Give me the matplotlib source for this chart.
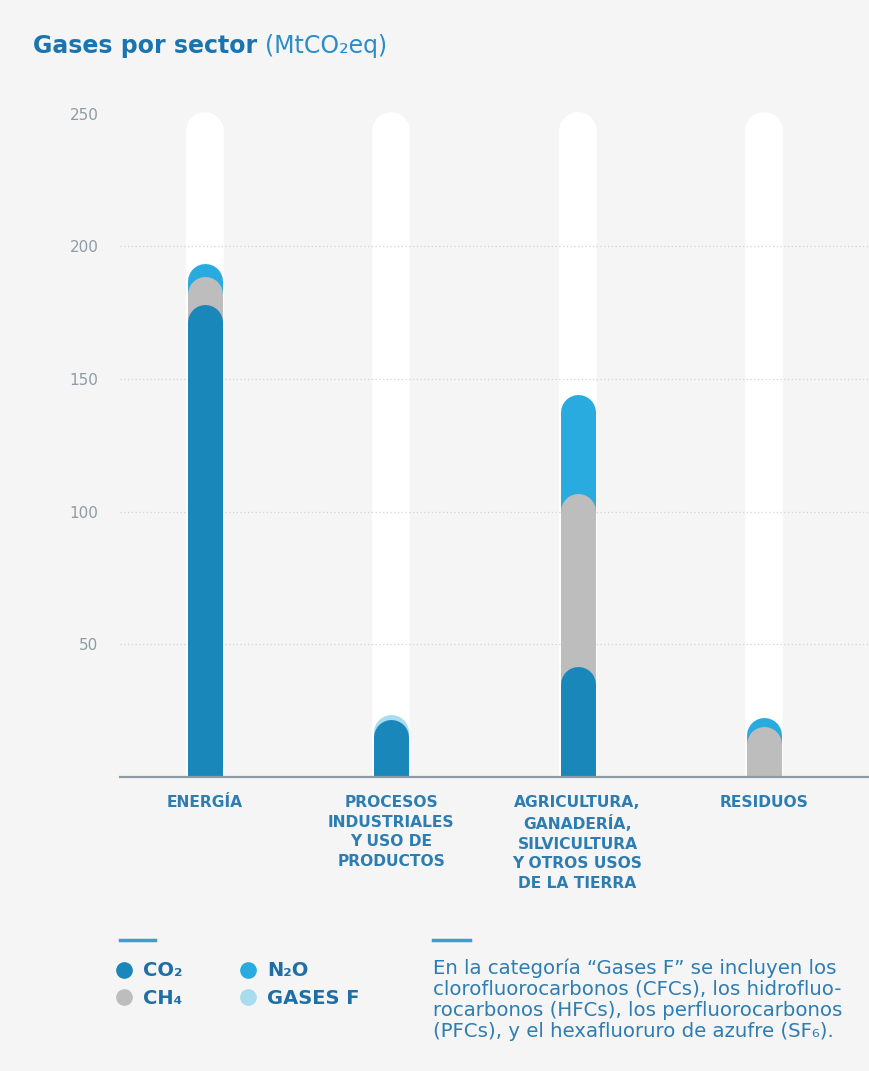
import numpy as np
import matplotlib
matplotlib.use("Agg")
from matplotlib import pyplot as plt
from matplotlib.lines import Line2D

sectors = ['ENERGÍA',
           'PROCESOS\nINDUSTRIALES\nY USO DE\nPRODUCTOS',
           'AGRICULTURA,\nGANADERÍA,\nSILVICULTURA\nY OTROS USOS\nDE LA TIERRA',
           'RESIDUOS']
co2 = [178, 21.5, 41.5, 0]
ch4 = [10.5, 0, 65.5, 19]
n2o = [5, 0, 37, 3.5]
gases_f = [0, 2, 0, 0]
track_max = 250
yticks = [50, 100, 150, 200, 250]

gas_names = ['CO₂', 'CH₄', 'N₂O', 'GASES F']
gas_colors = ['#1a87bb', '#bdbdbd', '#2aabe0', '#a8dcef']

BG = '#f5f5f5'
TXT = '#2d7db2'
DPI = 100
W, H = 869, 1071


def main():
    plt.rcParams['font.family'] = ['DejaVu Sans']
    fig = plt.figure(figsize=(W / DPI, H / DPI), dpi=DPI, facecolor=BG)
    ax = fig.add_axes([120 / W, 294 / H, 749 / W, 676.5 / H])
    ax.set_facecolor(BG)

    x = np.arange(len(sectors))
    ax.set_xlim(-0.456, 3.564)
    ax.set_ylim(0, 255)

    bar_px = 35
    lw = bar_px * 72 / DPI
    px_per_unit = 676.5 / 255
    r = (bar_px / 2) / px_per_unit  # cap radius in data units

    # white tracks
    for xi in x:
        ax.plot([xi, xi], [-30, track_max - r], color='white', lw=lw + 2,
                solid_capstyle='round', zorder=1)

    # dotted grid
    for t in yticks[:-1]:
        ax.axhline(t, color='#d3d3d3', lw=0.9, ls=(0, (1, 2)), zorder=1.5)

    # stacked rounded segments, top layer drawn first
    layers = [co2, ch4, n2o, gases_f]
    cum = np.cumsum(np.array(layers), axis=0)
    for k in range(len(layers) - 1, -1, -1):
        for i, xi in enumerate(x):
            if layers[k][i] <= 0:
                continue
            ax.plot([xi, xi], [-30, cum[k][i] - r], color=gas_colors[k], lw=lw,
                    solid_capstyle='round', zorder=2 + (len(layers) - k))

    for s in ['top', 'right', 'left']:
        ax.spines[s].set_visible(False)
    ax.spines['bottom'].set_color('#8e9ca6')
    ax.spines['bottom'].set_linewidth(1.6)
    ax.spines['bottom'].set_zorder(10)

    ax.set_yticks(yticks)
    ax.set_yticklabels([str(t) for t in yticks], color='#8d9ca6', fontsize=11)
    ax.tick_params(axis='y', length=0, pad=15.5)

    ax.set_xticks(x)
    ax.set_xticklabels(sectors, color=TXT, fontsize=11.2, fontweight='bold',
                       linespacing=1.38, multialignment='center')
    ax.tick_params(axis='x', length=0, pad=13)

    # title
    ty = 1 - 46 / H
    t1 = fig.text(33 / W, ty, 'Gases por sector', color='#1c74ae',
                  fontsize=17, fontweight='bold', va='center', ha='left')
    fig.canvas.draw()
    bb = t1.get_window_extent(fig.canvas.get_renderer())
    fig.text((bb.x1 + 8) / W, ty, '(MtCO₂eq)', color='#2b8cc8',
             fontsize=17, va='center', ha='left')

    # legend
    fig.add_artist(Line2D([120 / W, 155 / W], [1 - 940 / H] * 2,
                          color='#3a9fd0', lw=2.5))
    fig.add_artist(Line2D([433 / W, 470 / W], [1 - 940 / H] * 2,
                          color='#3a9fd0', lw=2.5))
    handles = [Line2D([], [], ls='none', marker='o', markersize=11,
                      markerfacecolor=c, markeredgecolor=c) for c in gas_colors]
    fig.legend(handles, gas_names, ncol=2, loc='upper left',
               bbox_to_anchor=(97 / W, 1 - 944 / H), frameon=False,
               prop={'weight': 'bold', 'size': 14}, labelcolor='#1f6fa6',
               handletextpad=0.45, columnspacing=2.9, labelspacing=0.42,
               handlelength=1.0)

    note = ('En la categoría “Gases F” se incluyen los\n'
            'clorofluorocarbonos (CFCs), los hidrofluo-\n'
            'rocarbonos (HFCs), los perfluorocarbonos\n'
            '(PFCs), y el hexafluoruro de azufre (SF₆).')
    fig.text(433 / W, 1 - 958 / H, note, color=TXT, fontsize=14.2,
             va='top', ha='left', linespacing=1.15)

    fig.savefig('out.png', dpi=DPI, facecolor=BG)


if __name__ == '__main__':
    main()
